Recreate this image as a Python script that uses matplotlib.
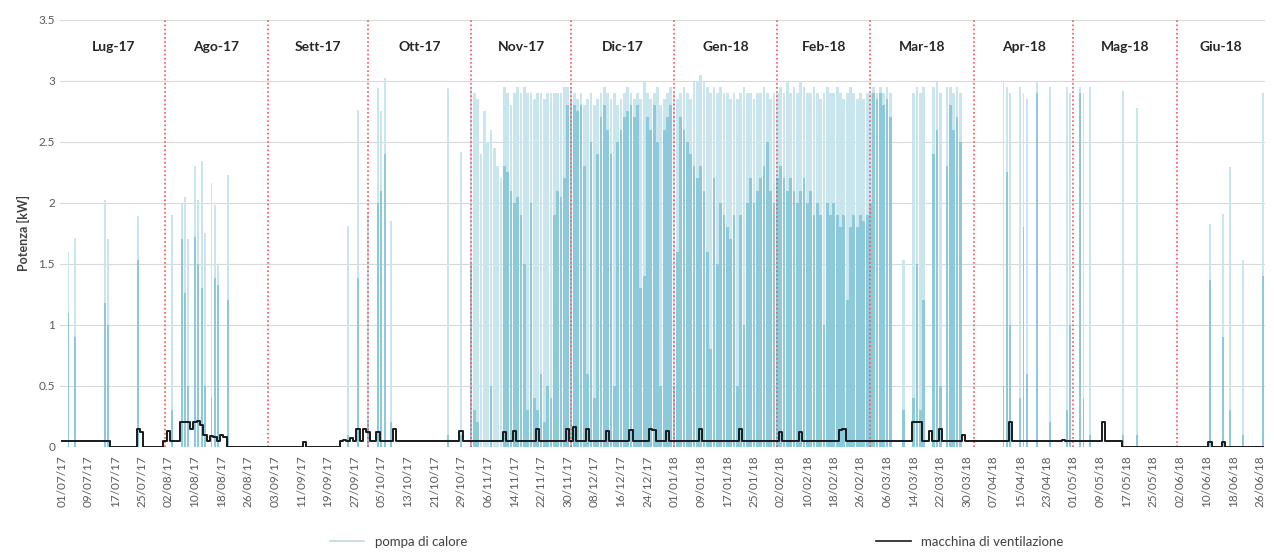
import numpy as np
import pandas as pd
import matplotlib
matplotlib.use('Agg')
import matplotlib.pyplot as plt
from matplotlib.lines import Line2D

plt.rcParams['font.family'] = ['Lato', 'DejaVu Sans']

# --- pompa di calore: giorno del mese, picco [kW], livello "pieno" [kW] ---
lug17_giorni = [3, 5, 14, 15, 24]
lug17_picchi = [1.60, 1.71, 2.02, 1.70, 1.89]
lug17_pieni = [1.10, 0.90, 1.18, 1.00, 1.53]

ago17_giorni = [3, 6, 7, 8, 10, 11, 12, 13, 15, 16, 17, 20]
ago17_picchi = [1.90, 2.00, 2.05, 1.70, 2.30, 2.02, 2.34, 1.75, 2.16, 1.98, 1.50, 2.23]
ago17_pieni = [0.30, 1.70, 1.26, 0.50, 1.72, 1.50, 1.30, 0.50, 0.40, 1.38, 1.33, 1.20]

set17_giorni = [25, 28]
set17_picchi = [1.81, 2.76]
set17_pieni = [0.10, 1.38]

ott17_giorni = [1, 4, 5, 6, 8, 25, 29]
ott17_picchi = [1.92, 2.94, 2.75, 3.02, 1.85, 2.94, 2.42]
ott17_pieni = [0.20, 2.00, 2.10, 2.40, 0.20, 0.10, 0.10]

nov17_giorni = list(range(1, 31))
nov17_picchi = [2.95, 2.90, 2.85, 2.40, 2.75, 2.50, 2.60, 2.45, 2.30, 2.20,
                2.95, 2.90, 2.80, 2.90, 2.95, 2.90, 2.95, 2.90, 2.90, 2.85,
                2.90, 2.90, 2.85, 2.90, 2.90, 2.90, 2.90, 2.90, 2.95, 2.95]
nov17_pieni = [1.50, 0.30, 0.20, 0.00, 0.00, 0.00, 0.50, 0.00, 0.00, 0.00,
               2.30, 2.25, 2.10, 2.00, 2.05, 1.90, 1.50, 0.30, 2.00, 0.40,
               0.30, 0.60, 0.20, 0.50, 0.40, 1.90, 2.10, 2.05, 2.20, 2.80]

dic17_giorni = list(range(1, 32))
dic17_picchi = [2.95, 2.90, 2.85, 2.90, 2.80, 2.85, 2.90, 2.80, 2.85, 2.90,
                2.95, 2.90, 2.85, 2.90, 2.80, 2.85, 2.90, 2.95, 2.90, 2.85,
                2.90, 2.85, 3.00, 2.90, 2.85, 2.90, 2.95, 2.80, 2.85, 2.90, 2.95]
dic17_pieni = [2.85, 2.80, 2.75, 2.80, 2.30, 0.60, 2.50, 0.40, 2.40, 2.70,
               2.80, 2.60, 2.40, 0.50, 2.50, 2.60, 2.70, 2.75, 2.80, 2.70,
               2.80, 1.30, 1.40, 2.70, 2.60, 2.80, 2.50, 0.50, 2.60, 2.70, 2.80]

gen18_giorni = list(range(1, 32))
gen18_picchi = [2.90, 2.85, 2.90, 2.95, 2.90, 2.85, 3.00, 3.00, 3.05, 3.00,
                2.95, 2.90, 2.95, 2.90, 2.95, 2.90, 2.90, 2.85, 2.90, 2.85,
                2.90, 2.95, 2.90, 2.90, 2.85, 2.90, 2.90, 2.95, 2.90, 2.85, 2.90]
gen18_pieni = [0.50, 1.60, 2.70, 2.60, 2.50, 2.40, 2.30, 2.20, 2.30, 2.10,
               1.60, 0.80, 2.20, 1.50, 2.00, 1.90, 1.80, 1.70, 1.90, 0.50,
               1.90, 1.00, 2.00, 2.20, 2.00, 2.10, 2.20, 2.30, 2.50, 2.10, 2.00]

feb18_giorni = list(range(1, 29))
feb18_picchi = [2.90, 2.95, 2.90, 3.00, 2.90, 2.95, 2.90, 3.00, 2.95, 2.90,
                2.90, 2.95, 2.90, 2.85, 2.90, 2.95, 2.90, 2.90, 2.95, 2.90,
                2.85, 2.90, 2.95, 2.90, 2.85, 2.90, 2.85, 2.90]
feb18_pieni = [2.20, 2.30, 2.20, 2.10, 2.20, 2.10, 2.00, 2.10, 2.20, 2.00,
               2.10, 1.90, 2.00, 1.90, 1.00, 2.00, 1.90, 2.00, 1.90, 1.80,
               1.90, 1.20, 1.80, 1.90, 1.80, 1.90, 1.85, 1.90]

mar18_giorni = [1, 2, 3, 4, 5, 6, 7, 11, 14, 15, 16, 17, 20, 21, 22, 24, 25, 26, 27, 28]
mar18_picchi = [2.90, 2.95, 2.90, 2.95, 2.90, 2.95, 2.90, 1.53, 2.90, 2.95,
                2.90, 2.95, 2.95, 3.00, 2.90, 2.95, 2.95, 2.90, 2.95, 2.90]
mar18_pieni = [2.00, 2.90, 2.85, 2.90, 2.80, 2.85, 2.70, 0.30, 0.40, 1.50,
               0.30, 1.20, 2.40, 2.60, 0.50, 2.30, 2.80, 2.60, 2.70, 2.50]

apr18_giorni = [10, 11, 12, 15, 16, 17, 20, 24, 29, 30]
apr18_picchi = [3.00, 2.95, 2.90, 2.95, 2.90, 2.85, 3.00, 2.95, 2.95, 2.90]
apr18_pieni = [0.50, 2.25, 1.00, 0.40, 1.80, 0.60, 2.90, 0.20, 0.30, 1.00]

mag18_giorni = [3, 4, 6, 16, 20]
mag18_picchi = [2.95, 2.90, 2.95, 2.92, 2.78]
mag18_pieni = [2.90, 0.40, 0.10, 0.10, 0.10]

giu18_giorni = [11, 15, 17, 21, 27]
giu18_picchi = [1.83, 1.91, 2.29, 1.53, 2.90]
giu18_pieni = [1.37, 0.90, 0.30, 0.10, 1.40]

# (anno, mese, giorni, picchi, pieni, mese a funzionamento continuo)
mesi = [(2017, 7, lug17_giorni, lug17_picchi, lug17_pieni, False),
        (2017, 8, ago17_giorni, ago17_picchi, ago17_pieni, False),
        (2017, 9, set17_giorni, set17_picchi, set17_pieni, False),
        (2017, 10, ott17_giorni, ott17_picchi, ott17_pieni, False),
        (2017, 11, nov17_giorni, nov17_picchi, nov17_pieni, True),
        (2017, 12, dic17_giorni, dic17_picchi, dic17_pieni, True),
        (2018, 1, gen18_giorni, gen18_picchi, gen18_pieni, True),
        (2018, 2, feb18_giorni, feb18_picchi, feb18_pieni, True),
        (2018, 3, mar18_giorni, mar18_picchi, mar18_pieni, True),
        (2018, 4, apr18_giorni, apr18_picchi, apr18_pieni, False),
        (2018, 5, mag18_giorni, mag18_picchi, mag18_pieni, False),
        (2018, 6, giu18_giorni, giu18_picchi, giu18_pieni, False)]

# --- macchina di ventilazione ---
vent_inizio_tratto = ['2017-07-01', '2017-07-16', '2017-08-01', '2017-08-20', '2017-09-23', '2018-05-16']
vent_livello = [0.05, 0.0, 0.05, 0.0, 0.045, 0.0]
vent_picchi_giorno = [23, 24, 32, 36, 37, 38, 39, 40, 41, 42, 43, 45, 46, 48, 49, 73,
                      85, 87, 89, 91, 92, 95, 100, 120, 133, 136, 143, 152, 154, 158,
                      164, 171, 177, 178, 182, 192, 204, 216, 222, 234, 235, 256, 257,
                      258, 261, 264, 271, 285, 301, 313, 345, 349]
vent_picchi_valore = [0.15, 0.12, 0.13, 0.20, 0.20, 0.20, 0.15, 0.20, 0.21, 0.18, 0.10,
                      0.09, 0.08, 0.10, 0.08, 0.04, 0.06, 0.07, 0.15, 0.15, 0.12, 0.12,
                      0.15, 0.13, 0.12, 0.13, 0.15, 0.15, 0.16, 0.15, 0.13, 0.14, 0.15,
                      0.14, 0.13, 0.15, 0.15, 0.12, 0.12, 0.14, 0.15, 0.20, 0.20, 0.20,
                      0.13, 0.15, 0.10, 0.20, 0.06, 0.20, 0.04, 0.04]

etichette_mesi = ['Lug-17', 'Ago-17', 'Sett-17', 'Ott-17', 'Nov-17', 'Dic-17',
                  'Gen-18', 'Feb-18', 'Mar-18', 'Apr-18', 'Mag-18', 'Giu-18']

inizio = pd.Timestamp('2017-07-01')
x_min = inizio - pd.Timedelta(hours=14)
x_max = pd.Timestamp('2018-06-27 14:00')

col_chiaro = '#c9e6ef'
col_medio = '#8ccadb'

fig = plt.figure(figsize=(12.74, 5.53), dpi=100)
ax = fig.add_axes([0.047, 0.192, 0.946, 0.772])

for anno, mese, giorni, picchi, pieni, continuo in mesi:
    date = [pd.Timestamp(anno, mese, g) for g in giorni]
    w = 0.82 if continuo else 0.55
    ax.bar(date, picchi, width=w, color=col_chiaro, linewidth=0, zorder=2)
    ax.bar(date, pieni, width=w, color=col_medio, linewidth=0, zorder=2)

# serie giornaliera della ventilazione
giorni_vent = pd.date_range(inizio, x_max, freq='D')
tratti = pd.to_datetime(vent_inizio_tratto)
idx = np.searchsorted(tratti.values, giorni_vent.values, side='right') - 1
vent = np.array(vent_livello)[idx]
for g, v in zip(vent_picchi_giorno, vent_picchi_valore):
    vent[g] = v
ax.plot(giorni_vent, vent, drawstyle='steps-mid', color='#1a1a1a', lw=1.4, zorder=4)

# separatori mensili
for d in pd.date_range('2017-08-01', '2018-06-01', freq='MS'):
    ax.axvline(d, color='#ff4f5e', lw=1.2, linestyle=(0, (1, 1.5)), zorder=3)

# etichette dei mesi
starts = pd.date_range('2017-07-01', periods=12, freq='MS')
for i, lab in enumerate(etichette_mesi):
    a = starts[i]
    b = starts[i + 1] if i < 11 else x_max
    ax.text(a + (b - a) / 2, 3.28, lab, ha='center', va='center',
            fontsize=10, fontweight='bold', color='#262626')

ax.set_xlim(x_min, x_max)
ax.set_ylim(0, 3.5)
ax.set_yticks(np.arange(0, 3.51, 0.5))
ax.set_yticklabels(['0', '0.5', '1', '1.5', '2', '2.5', '3', '3.5'])
ax.yaxis.grid(True, color='#d9d9d9', lw=0.8, zorder=0)
ax.set_axisbelow(True)

tick_date = pd.date_range('2017-07-01', '2018-06-26', freq='8D')
ax.set_xticks(tick_date)
ax.set_xticklabels([d.strftime('%d/%m/%y') for d in tick_date], rotation=90)
ax.tick_params(axis='both', length=0, labelsize=8.5, labelcolor='#595959')
ax.tick_params(axis='x', pad=6)
for s in ax.spines.values():
    s.set_visible(False)

ax.set_ylabel('Potenza [kW]', fontsize=9, fontweight='bold', color='#404040', labelpad=6)

handles = [Line2D([], [], color='#bcd9e2', lw=1.2),
           Line2D([], [], color='#1a1a1a', lw=1.2)]
fig.legend(handles, ['pompa di calore', 'macchina di ventilazione'],
           loc='lower center', bbox_to_anchor=(0.547, -0.012), ncol=2,
           frameon=False, fontsize=9.5, handlelength=2.6, columnspacing=31,
           labelcolor='#404040')

fig.savefig('out.png', dpi=100)
